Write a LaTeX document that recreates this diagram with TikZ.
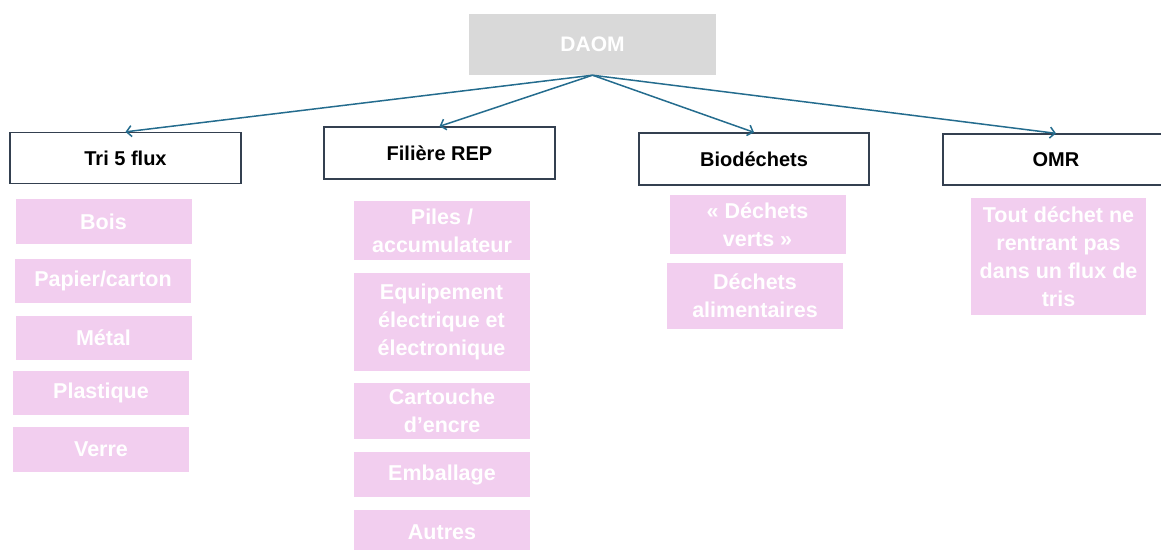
\documentclass[tikz,border=0pt]{standalone}
\usepackage{fontspec}
\setmainfont{Liberation Sans}
\usetikzlibrary{arrows.meta}
\definecolor{daomgray}{RGB}{217,217,217}
\definecolor{itempink}{RGB}{242,206,239}
\definecolor{headline}{RGB}{52,64,80}
\definecolor{edgeblue}{RGB}{36,108,142}

\begin{document}
\begin{tikzpicture}
[x=1pt,y=-1pt,every node/.style={inner sep=0pt,align=center}]
\tikzset{root/.style = {fill=daomgray,text=white,minimum width=247pt,minimum height=61pt,font=\bfseries\fontsize{21}{25}\selectfont}}
\tikzset{flux/.style = {draw=headline,line width=1.3pt,fill=white,minimum height=51pt,font=\bfseries\fontsize{20}{24}\selectfont}}
\tikzset{item/.style = {fill=itempink,text=white,minimum width=176pt,font=\bfseries\fontsize{21.5}{28}\selectfont}}
\tikzset{edge/.style = {draw=edgeblue,line width=1.5pt,-{Straight Barb[length=5pt,width=11pt]}}}
\useasboundingbox (0,0) rectangle (1161,549);
  \node[root] (daom) at (592.5,44.5){DAOM};
  \node[flux,minimum width=231pt] (tri) at (125.5,158){Tri 5 flux};
  \node[flux,minimum width=231pt,minimum height=52pt] (rep) at (439.5,153){Filière REP};
  \node[flux,minimum width=230pt,minimum height=52pt] (bio) at (754,159){Biodéchets};
  \node[flux,minimum width=226pt] (omr) at (1056,159.5){OMR};
  \node[item,minimum height=45pt] (bois) at (103.5,221.5){Bois};
  \node[item,minimum height=44pt] (papier) at (103,281){Papier/carton};
  \node[item,minimum height=44pt] (metal) at (103.5,338){Métal};
  \node[item,minimum height=44pt] (plastique) at (101,393){Plastique};
  \node[item,minimum height=45pt] (verre) at (101,449.5){Verre};
  \node[item,minimum height=59pt] (piles) at (442,230.5){Piles /\\accumulateur};
  \node[item,minimum height=98pt] (deee) at (441.5,322){Equipement\\électrique et\\électronique};
  \node[item,minimum height=56pt] (cartouche) at (442,411){Cartouche\\d’encre};
  \node[item,minimum height=45pt] (emballage) at (442,474.5){Emballage};
  \node[item,minimum height=45pt] (autres) at (442,532){Autres};
  \node[item,minimum height=59pt] (verts) at (757.5,224.5){« Déchets\\verts »};
  \node[item,minimum height=66pt] (alim) at (755,296){Déchets\\alimentaires};
  \node[item,minimum width=175pt,minimum height=117pt] (tout) at (1058.5,256.5){Tout déchet ne\\rentrant pas\\dans un flux de\\tris};
\draw[edge] (daom.south) -- (tri.north);
\draw[edge] (daom.south) -- (rep.north);
\draw[edge] (daom.south) -- (bio.north);
\draw[edge] (daom.south) -- (omr.north);
\end{tikzpicture}
\end{document}
